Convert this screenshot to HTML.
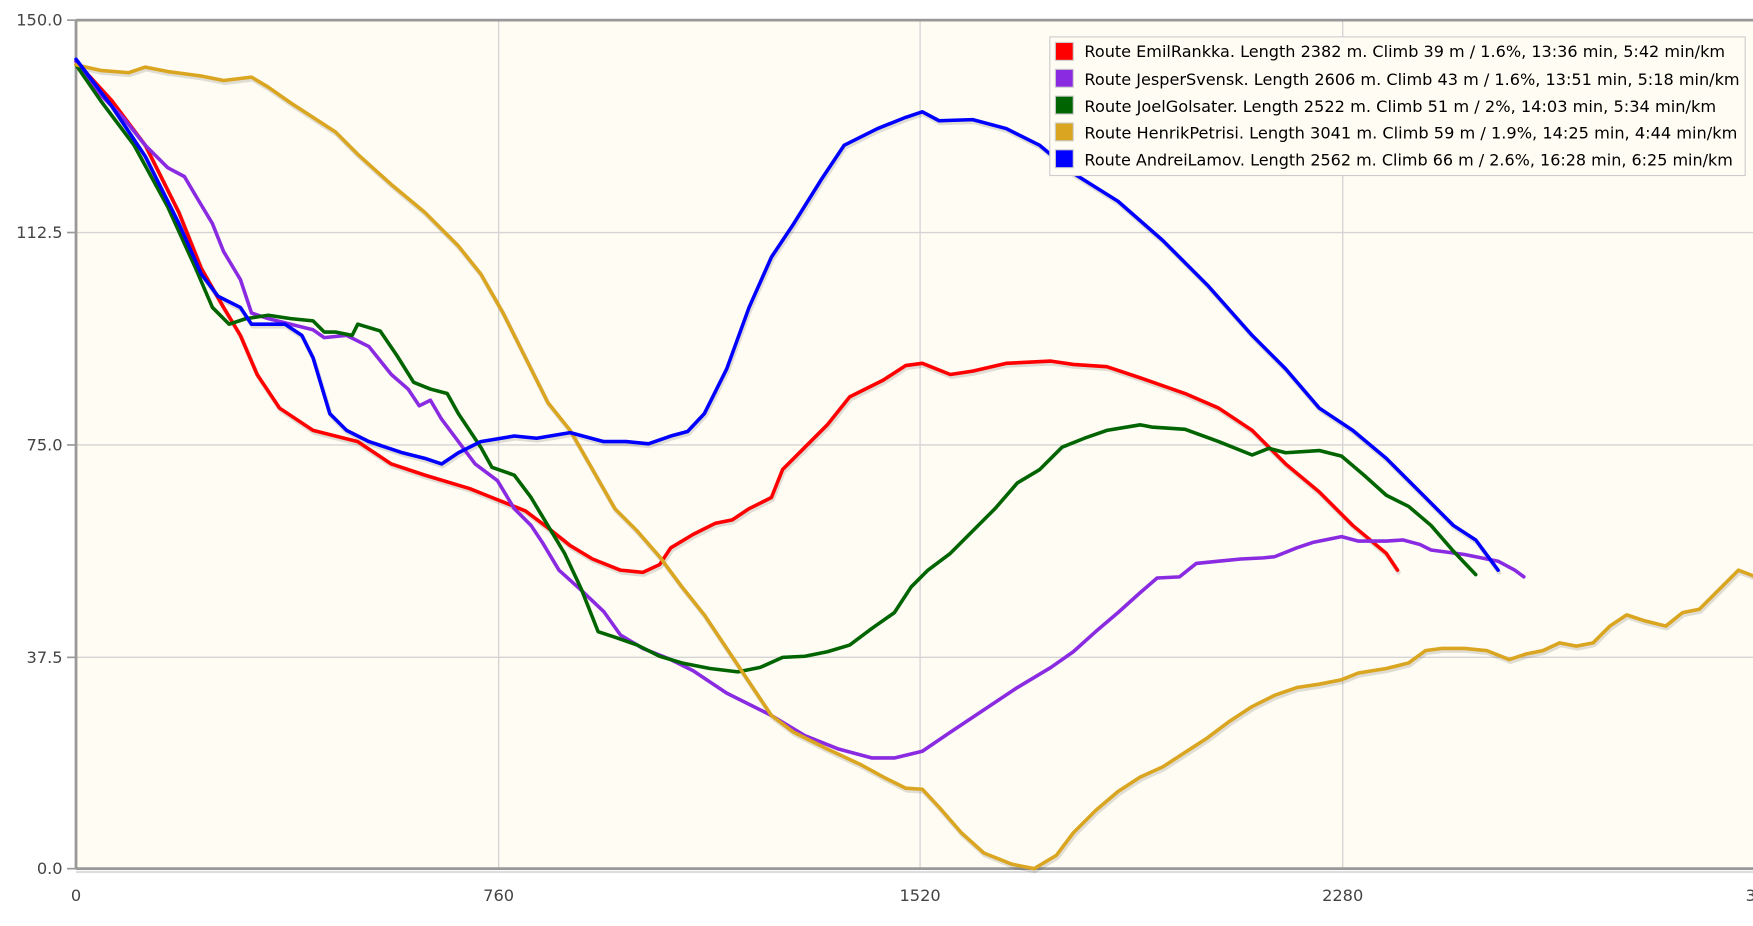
<!DOCTYPE html>
<html><head><meta charset="utf-8"><style>html,body{margin:0;padding:0;background:#fff;}svg{display:block}</style></head>
<body>
<svg width="1753" height="926" viewBox="0 0 1568 828.3" preserveAspectRatio="none" xmlns="http://www.w3.org/2000/svg" font-family="'DejaVu Sans', 'Liberation Sans', sans-serif">
<rect x="68" y="18" width="1510" height="759" fill="#fffcf3"/>
<g stroke="#d4d4d4" stroke-width="1.2">
<line x1="68" y1="208" x2="1568" y2="208"/><line x1="68" y1="398" x2="1568" y2="398"/><line x1="68" y1="588" x2="1568" y2="588"/>
<line x1="446" y1="18" x2="446" y2="777"/><line x1="823" y1="18" x2="823" y2="777"/><line x1="1201" y1="18" x2="1201" y2="777"/>
</g>
<g stroke="#999" stroke-width="2.5"><line x1="68" y1="18" x2="1568" y2="18"/><line x1="68" y1="777" x2="1568" y2="777"/><line x1="68" y1="18" x2="68" y2="777"/></g>
<line x1="68" y1="780" x2="1568" y2="780" stroke="#ddd" stroke-width="2"/>
<g stroke="#999" stroke-width="1.5"><line x1="60" y1="18" x2="68" y2="18"/><line x1="60" y1="208" x2="68" y2="208"/><line x1="60" y1="398" x2="68" y2="398"/><line x1="60" y1="588" x2="68" y2="588"/><line x1="60" y1="777" x2="68" y2="777"/></g>
<g fill="#444" font-size="14.5" text-anchor="end"><text x="56" y="23">150.0</text><text x="56" y="213">112.5</text><text x="56" y="403">75.0</text><text x="56" y="593">37.5</text><text x="56" y="782">0.0</text></g>
<g fill="#444" font-size="14.5" text-anchor="middle"><text x="68" y="806">0</text><text x="446" y="806">760</text><text x="823" y="806">1520</text><text x="1201" y="806">2280</text><text x="1566" y="806">3</text></g>
<g fill="none" stroke-width="3.2" stroke-linejoin="round" stroke-linecap="round">
<g transform="translate(1,2)" stroke="rgba(0,0,0,0.12)" stroke-width="4">
<polyline points="68,55 100,90 130,130 160,190 180,240 200,275 215,300 230,335 250,365 280,385 320,395 350,415 380,425 420,437 440,445 470,457 490,472 510,488 530,500 555,510 575,512 590,505 600,490 620,478 640,468 655,465 670,455 690,445 700,420 720,400 740,380 760,355 790,340 810,327 825,325 850,335 870,332 900,325 940,323 960,326 990,328 1020,338 1060,352 1090,365 1120,385 1150,415 1180,440 1210,470 1240,495 1250,510"/>
<polyline points="68,58 90,63 115,65 130,60 150,64 180,68 200,72 225,69 240,78 260,92 280,105 300,118 320,138 350,165 380,190 410,220 430,245 450,280 470,320 490,360 510,385 530,420 550,455 570,475 590,498 610,525 630,550 650,580 670,610 690,640 710,655 740,670 770,684 790,695 810,705 825,706 840,722 860,745 880,763 905,773 925,777 945,765 960,745 980,725 1000,708 1020,695 1040,686 1060,673 1080,660 1100,645 1120,632 1140,622 1160,615 1180,612 1200,608 1215,602 1240,598 1260,593 1275,582 1290,580 1310,580 1330,582 1350,590 1365,585 1380,582 1395,575 1410,578 1425,575 1440,560 1455,550 1470,555 1490,560 1505,548 1520,545 1540,525 1555,510 1568,515"/>
<polyline points="68,53 100,95 130,140 160,200 180,245 195,265 215,275 225,290 240,290 255,290 270,300 280,320 295,370 310,385 330,395 360,405 380,410 395,415 410,405 430,395 460,390 480,392 510,387 540,395 560,395 580,397 600,390 615,386 630,370 650,330 670,275 690,230 710,200 735,160 755,130 785,115 810,105 825,100 840,108 870,107 900,115 930,130 960,155 1000,180 1040,215 1080,255 1120,300 1150,330 1180,365 1210,385 1240,410 1270,440 1300,470 1320,483 1340,510"/>
</g>
<polyline stroke="#ff0000" points="68,55 100,90 130,130 160,190 180,240 200,275 215,300 230,335 250,365 280,385 320,395 350,415 380,425 420,437 440,445 470,457 490,472 510,488 530,500 555,510 575,512 590,505 600,490 620,478 640,468 655,465 670,455 690,445 700,420 720,400 740,380 760,355 790,340 810,327 825,325 850,335 870,332 900,325 940,323 960,326 990,328 1020,338 1060,352 1090,365 1120,385 1150,415 1180,440 1210,470 1240,495 1250,510"/>
<polyline stroke="#8a2be2" points="68,55 90,85 110,105 130,130 150,150 165,158 175,175 190,200 200,225 215,250 225,280 240,285 260,290 280,295 290,302 310,300 330,310 350,335 365,348 375,363 385,358 395,375 410,395 425,415 445,430 460,455 475,470 485,485 500,510 520,528 540,547 555,568 575,580 600,590 620,600 650,620 690,640 720,658 750,670 780,678 800,678 825,672 850,655 880,635 910,615 940,597 960,583 980,565 1000,548 1020,530 1035,517 1055,516 1070,504 1090,502 1110,500 1130,499 1140,498 1160,490 1175,485 1190,482 1200,480 1215,484 1240,484 1255,483 1270,487 1280,492 1310,496 1340,502 1355,510 1363,516"/>
<polyline stroke="#006400" points="68,58 90,90 120,130 150,185 175,240 190,275 205,290 220,285 240,282 260,285 280,287 290,297 300,297 315,300 320,290 340,296 355,318 370,342 385,348 400,352 410,370 420,385 430,400 440,418 460,425 475,445 490,470 505,495 520,527 535,565 550,570 570,577 590,587 610,593 635,598 660,601 680,597 700,588 720,587 740,583 760,577 780,562 800,548 815,525 830,510 850,495 870,475 890,455 910,432 930,420 950,400 970,392 990,385 1020,380 1030,382 1060,384 1090,395 1120,407 1135,401 1150,405 1180,403 1200,408 1220,425 1240,443 1260,453 1280,470 1300,493 1320,514"/>
<polyline stroke="#daa520" points="68,58 90,63 115,65 130,60 150,64 180,68 200,72 225,69 240,78 260,92 280,105 300,118 320,138 350,165 380,190 410,220 430,245 450,280 470,320 490,360 510,385 530,420 550,455 570,475 590,498 610,525 630,550 650,580 670,610 690,640 710,655 740,670 770,684 790,695 810,705 825,706 840,722 860,745 880,763 905,773 925,777 945,765 960,745 980,725 1000,708 1020,695 1040,686 1060,673 1080,660 1100,645 1120,632 1140,622 1160,615 1180,612 1200,608 1215,602 1240,598 1260,593 1275,582 1290,580 1310,580 1330,582 1350,590 1365,585 1380,582 1395,575 1410,578 1425,575 1440,560 1455,550 1470,555 1490,560 1505,548 1520,545 1540,525 1555,510 1568,515"/>
<polyline stroke="#0000ff" points="68,53 100,95 130,140 160,200 180,245 195,265 215,275 225,290 240,290 255,290 270,300 280,320 295,370 310,385 330,395 360,405 380,410 395,415 410,405 430,395 460,390 480,392 510,387 540,395 560,395 580,397 600,390 615,386 630,370 650,330 670,275 690,230 710,200 735,160 755,130 785,115 810,105 825,100 840,108 870,107 900,115 930,130 960,155 1000,180 1040,215 1080,255 1120,300 1150,330 1180,365 1210,385 1240,410 1270,440 1300,470 1320,483 1340,510"/>
</g>
<rect x="939" y="33" width="622" height="124" fill="#fffcf3" stroke="#ccc" stroke-width="1"/>
<g stroke="#ccc" stroke-width="1">
<rect x="944" y="38" width="16" height="16" fill="#ff0000"/>
<rect x="944" y="62" width="16" height="16" fill="#8a2be2"/>
<rect x="944" y="86" width="16" height="16" fill="#006400"/>
<rect x="944" y="110" width="16" height="16" fill="#daa520"/>
<rect x="944" y="134" width="16" height="16" fill="#0000ff"/>
</g>
<g fill="#000" font-size="14">
<text x="970" y="51" textLength="573" lengthAdjust="spacingAndGlyphs">Route EmilRankka. Length 2382 m. Climb 39 m / 1.6%, 13:36 min, 5:42 min/km</text>
<text x="970" y="76" textLength="586" lengthAdjust="spacingAndGlyphs">Route JesperSvensk. Length 2606 m. Climb 43 m / 1.6%, 13:51 min, 5:18 min/km</text>
<text x="970" y="100" textLength="565" lengthAdjust="spacingAndGlyphs">Route JoelGolsater. Length 2522 m. Climb 51 m / 2%, 14:03 min, 5:34 min/km</text>
<text x="970" y="124" textLength="584" lengthAdjust="spacingAndGlyphs">Route HenrikPetrisi. Length 3041 m. Climb 59 m / 1.9%, 14:25 min, 4:44 min/km</text>
<text x="970" y="148" textLength="580" lengthAdjust="spacingAndGlyphs">Route AndreiLamov. Length 2562 m. Climb 66 m / 2.6%, 16:28 min, 6:25 min/km</text>
</g>
</svg>
</body></html>
